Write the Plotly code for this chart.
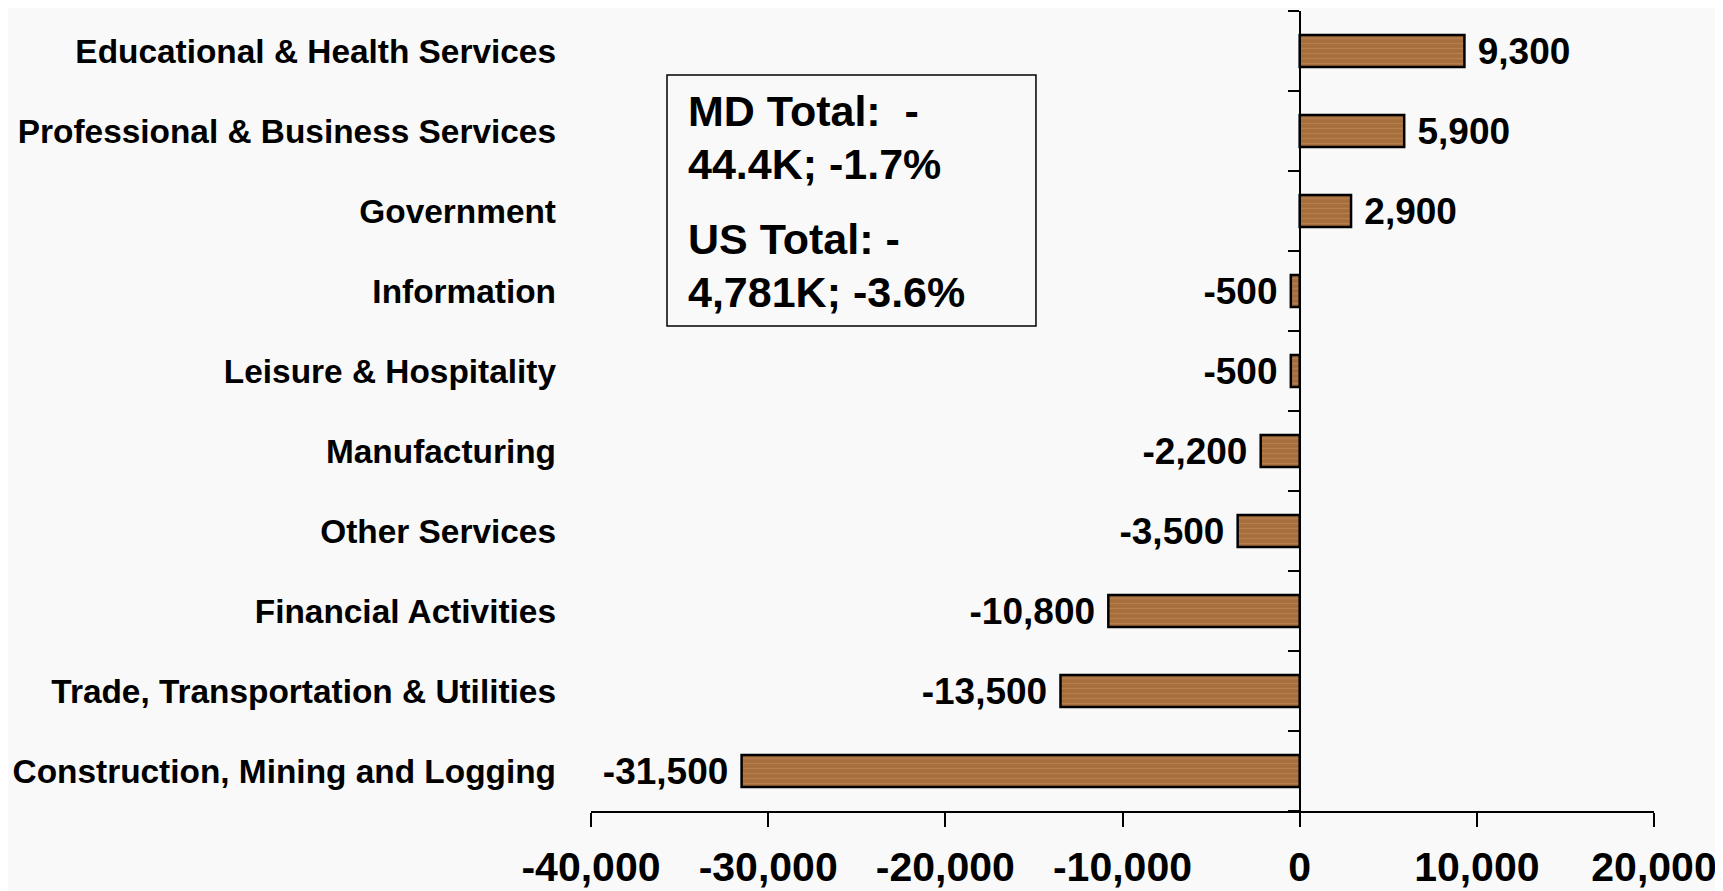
import plotly.graph_objects as go

categories = [
    "Construction, Mining and Logging",
    "Trade, Transportation & Utilities",
    "Financial Activities",
    "Other Services",
    "Manufacturing",
    "Leisure & Hospitality",
    "Information",
    "Government",
    "Professional & Business Services",
    "Educational & Health Services",
]
values = [-31500, -13500, -10800, -3500, -2200, -500, -500, 2900, 5900, 9300]
x_tickvals = [-40000, -30000, -20000, -10000, 0, 10000, 20000]
x_ticktext = ["-40,000", "-30,000", "-20,000", "-10,000", "0", "10,000", "20,000"]
note_lines = ["MD Total:\u00a0 -", "44.4K; -1.7%", "US Total: -", "4,781K; -3.6%"]
note_y = [0.875, 0.80875, 0.715, 0.64875]

FONT = "Liberation Sans, Arial, sans-serif"
GAP = "\u00a0"
labels = [(GAP + f"{v:,}") if v > 0 else (f"{v:,}" + GAP) for v in values]

fig = go.Figure()
fig.add_trace(go.Bar(
    x=values, y=categories, orientation="h", width=0.4,
    marker=dict(color="#A66E3C", line=dict(color="black", width=2.5),
                pattern=dict(shape="-", fgcolor="#C4925E", bgcolor="#A66E3C",
                             size=5, solidity=0.25)),
    text=labels, textposition="outside", cliponaxis=False, constraintext="none",
    textfont=dict(family=FONT, size=37, color="black", weight="bold"),
    hoverinfo="skip",
))
# helper trace to draw the category axis at x=0
fig.add_trace(go.Scatter(
    x=[0] * len(categories), y=categories, yaxis="y2", mode="markers",
    marker=dict(opacity=0), hoverinfo="skip", showlegend=False,
))

xr = [-40000, 20000]
fig.update_layout(
    width=1723, height=891,
    margin=dict(l=583, r=77, t=3, b=88, autoexpand=False),
    paper_bgcolor="#f9f9f9", plot_bgcolor="#f9f9f9",
    showlegend=False,
    xaxis=dict(range=xr, tickvals=x_tickvals, ticktext=x_ticktext,
               showgrid=False, zeroline=False, showline=True, linecolor="black",
               linewidth=2, ticks="outside", ticklen=14, tickwidth=2, tickcolor="black",
               tickfont=dict(family=FONT, size=41, color="black", weight="bold"),
               ticklabelstandoff=5, automargin=False),
    yaxis=dict(type="category", categoryorder="array", categoryarray=categories,
               range=[-0.5, 9.5], showgrid=False, zeroline=False, showline=False,
               ticks="", ticklabelstandoff=34, automargin=False,
               tickfont=dict(family=FONT, size=33.4, color="black", weight="bold")),
    yaxis2=dict(type="category", categoryorder="array", categoryarray=categories,
                range=[-0.5, 9.5], overlaying="y", anchor="free",
                position=(0 - xr[0]) / (xr[1] - xr[0]), side="left",
                showgrid=False, zeroline=False, showline=True, linecolor="black",
                linewidth=2, ticks="outside", tickson="boundaries", ticklen=11,
                tickwidth=2, tickcolor="black", showticklabels=False, automargin=False),
)

fig.add_shape(type="rect", xref="paper", yref="paper", x0=0.0715, x1=0.4186,
              y0=0.60625, y1=0.92, line=dict(color="black", width=1.5),
              fillcolor="rgba(0,0,0,0)")
for line, yy in zip(note_lines, note_y):
    fig.add_annotation(text=line, xref="paper", yref="paper", x=0.089, y=yy,
                       xanchor="left", yanchor="middle", align="left", showarrow=False,
                       font=dict(family=FONT, size=43, color="black", weight="bold"))

fig.write_html("out.html")
